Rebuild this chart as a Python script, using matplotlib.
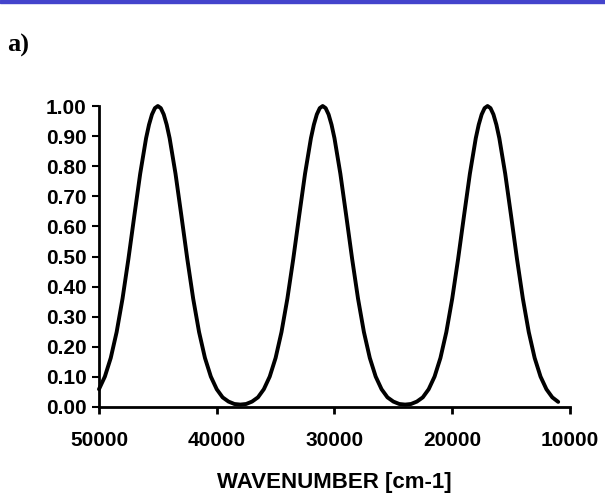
import matplotlib.pyplot as plt
from matplotlib.patches import Rectangle

# wavenumber samples (cm-1); denser around the peak tops
wavenumber = [
    50000, 49500, 49000, 48500, 48000, 47500, 47000, 46500, 46000, 45750,
    45500, 45250, 45000, 44750, 44500, 44250, 44000, 43500, 43000, 42500,
    42000, 41500, 41000, 40500, 40000, 39500, 39000, 38500, 38000, 37500,
    37000, 36500, 36000, 35500, 35000, 34500, 34000, 33500, 33000, 32500,
    32000, 31750, 31500, 31250, 31000, 30750, 30500, 30250, 30000, 29500,
    29000, 28500, 28000, 27500, 27000, 26500, 26000, 25500, 25000, 24500,
    24000, 23500, 23000, 22500, 22000, 21500, 21000, 20500, 20000, 19500,
    19000, 18500, 18000, 17750, 17500, 17250, 17000, 16750, 16500, 16250,
    16000, 15500, 15000, 14500, 14000, 13500, 13000, 12500, 12000, 11500,
    11000,
]

# normalised intensity at each sample
intensity = [
    0.059, 0.101, 0.163, 0.249, 0.360, 0.492, 0.635, 0.775, 0.893, 0.938,
    0.972, 0.993, 1.000, 0.993, 0.972, 0.938, 0.893, 0.775, 0.635, 0.492,
    0.360, 0.249, 0.163, 0.101, 0.059, 0.032, 0.018, 0.010, 0.008, 0.010,
    0.018, 0.032, 0.059, 0.101, 0.163, 0.249, 0.360, 0.492, 0.635, 0.775,
    0.893, 0.938, 0.972, 0.993, 1.000, 0.993, 0.972, 0.938, 0.893, 0.775,
    0.635, 0.492, 0.360, 0.249, 0.163, 0.101, 0.059, 0.032, 0.018, 0.010,
    0.008, 0.010, 0.018, 0.032, 0.059, 0.101, 0.163, 0.249, 0.360, 0.492,
    0.635, 0.775, 0.893, 0.938, 0.972, 0.993, 1.000, 0.993, 0.972, 0.938,
    0.893, 0.775, 0.635, 0.492, 0.360, 0.249, 0.163, 0.101, 0.059, 0.032,
    0.017,
]

x_ticks = [50000, 40000, 30000, 20000, 10000]
y_ticks = [0.0, 0.1, 0.2, 0.3, 0.4, 0.5, 0.6, 0.7, 0.8, 0.9, 1.0]

plt.rcParams['font.family'] = ['Liberation Sans', 'DejaVu Sans']

fig = plt.figure(figsize=(6.05, 4.97), dpi=100)
ax = fig.add_axes([0.1636, 0.1811, 0.7785, 0.6056])

ax.plot(wavenumber, intensity, color='black', lw=2.8, clip_on=False,
        solid_joinstyle='round', solid_capstyle='round')

ax.set_xlim(50000, 10000)
ax.set_ylim(0, 1.0)
ax.set_xticks(x_ticks)
ax.set_xticklabels([str(v) for v in x_ticks], fontsize=15, fontweight='bold')
ax.set_yticks(y_ticks)
ax.set_yticklabels([f"{v:.2f}" for v in y_ticks], fontsize=15, fontweight='bold')

for side in ['top', 'right']:
    ax.spines[side].set_visible(False)
for side in ['left', 'bottom']:
    ax.spines[side].set_linewidth(2.0)

ax.tick_params(axis='x', direction='out', length=5, width=2, pad=12)
ax.tick_params(axis='y', direction='out', length=5, width=1.5, pad=4)

ax.set_xlabel("WAVENUMBER [cm-1]", fontsize=16, fontweight='bold', labelpad=16)

# panel letter and blue strip at the top
fig.text(7 / 605, 1 - 45 / 497, "a)", fontsize=19, fontweight='bold',
         family=['Liberation Serif', 'DejaVu Serif'], va='center', ha='left')
fig.patches.append(Rectangle((0, 1 - 3 / 497), 1, 3 / 497, transform=fig.transFigure,
                             color='#4444cc', zorder=5))

fig.savefig("out.png", dpi=100)
